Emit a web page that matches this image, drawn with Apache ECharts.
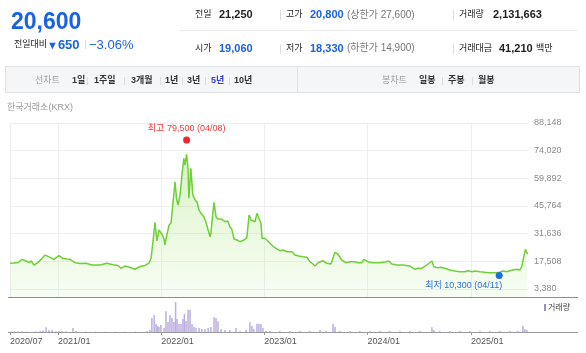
<!DOCTYPE html>
<html>
<head>
<meta charset="utf-8">
<script src="https://cdn.jsdelivr.net/npm/echarts@6/dist/echarts.min.js"></script>
<style>
  html, body { margin: 0; padding: 0; background: #fff; width: 586px; height: 353px; overflow: hidden; }
  #chart { position: absolute; left: 0; top: 0; width: 586px; height: 353px; }
  .t { position: absolute; white-space: nowrap; line-height: 1; font-family: "Liberation Sans", "Noto Sans CJK KR", sans-serif; }
  .b { font-weight: bold; }
  .blue { color: #1a63e0; }
  .sep { position: absolute; width: 1px; background: #dcdcdc; }
  .bar { position: absolute; left: 5px; top: 66px; width: 573px; height: 25px; background: #f5f6f8; border: 1px solid #dfe1e5; }
</style>
</head>
<body>
<div id="chart"></div>

<!-- header -->
<span class="t b blue" style="left:11px;top:9.5px;font-size:23px;">20,600</span>
<span class="t" style="left:14px;top:40px;font-size:9px;color:#222;">전일대비</span>
<span class="t b blue" style="left:47px;top:38px;font-size:13px;"><span style="font-size:11px;">▼</span>650</span>
<div class="sep" style="left:85px;top:40px;height:9px;"></div>
<span class="t blue" style="left:89px;top:38px;font-size:13px;">−3.06%</span>

<span class="t" style="left:195px;top:10px;font-size:9px;color:#222;">전일</span>
<span class="t b" style="left:219px;top:9.2px;font-size:11px;color:#222;">21,250</span>
<div class="sep" style="left:280px;top:10px;height:10px;"></div>
<span class="t" style="left:286px;top:10px;font-size:9px;color:#222;">고가</span>
<span class="t b blue" style="left:310px;top:9.2px;font-size:11px;">20,800</span>
<span class="t" style="left:347px;top:9.7px;font-size:10px;color:#777;">(상한가 27,600)</span>
<div class="sep" style="left:453px;top:10px;height:10px;"></div>
<span class="t" style="left:459px;top:10px;font-size:9px;color:#222;">거래량</span>
<span class="t b" style="left:493px;top:9.2px;font-size:11px;color:#222;">2,131,663</span>

<div style="position:absolute;left:180px;top:30px;width:398px;height:1px;background:#ebebeb;"></div>

<span class="t" style="left:195px;top:43.8px;font-size:9px;color:#222;">시가</span>
<span class="t b blue" style="left:219px;top:42.8px;font-size:11px;">19,060</span>
<div class="sep" style="left:280px;top:43.5px;height:10px;"></div>
<span class="t" style="left:286px;top:43.8px;font-size:9px;color:#222;">저가</span>
<span class="t b blue" style="left:310px;top:42.8px;font-size:11px;">18,330</span>
<span class="t" style="left:347px;top:43.3px;font-size:10px;color:#777;">(하한가 14,900)</span>
<div class="sep" style="left:453px;top:43.5px;height:10px;"></div>
<span class="t" style="left:459px;top:43.8px;font-size:9px;color:#222;">거래대금</span>
<span class="t b" style="left:499px;top:42.8px;font-size:11px;color:#222;">41,210</span>
<span class="t" style="left:536px;top:43.8px;font-size:9px;color:#222;">백만</span>

<!-- toolbar -->
<div class="bar"></div>
<div class="sep" style="left:297px;top:66px;height:27px;background:#dfe1e5;"></div>
<span class="t" style="left:35px;top:76px;font-size:9px;color:#999;">선차트</span>
<span class="t b" style="left:72px;top:76px;font-size:9px;color:#333;">1일</span>
<div class="sep" style="left:87px;top:77px;height:8px;"></div>
<span class="t b" style="left:94px;top:76px;font-size:9px;color:#333;">1주일</span>
<div class="sep" style="left:124px;top:77px;height:8px;"></div>
<span class="t b" style="left:131px;top:76px;font-size:9px;color:#333;">3개월</span>
<div class="sep" style="left:160px;top:77px;height:8px;"></div>
<span class="t b" style="left:165px;top:76px;font-size:9px;color:#333;">1년</span>
<div class="sep" style="left:182px;top:77px;height:8px;"></div>
<span class="t b" style="left:187px;top:76px;font-size:9px;color:#333;">3년</span>
<div class="sep" style="left:205px;top:77px;height:8px;"></div>
<span class="t b" style="left:211px;top:76px;font-size:9px;color:#3a3fd0;">5년</span>
<div class="sep" style="left:229px;top:77px;height:8px;"></div>
<span class="t b" style="left:234px;top:76px;font-size:9px;color:#333;">10년</span>

<span class="t" style="left:382px;top:76px;font-size:9px;color:#999;">봉차트</span>
<span class="t b" style="left:419px;top:76px;font-size:9px;color:#333;">일봉</span>
<div class="sep" style="left:442px;top:77px;height:8px;"></div>
<span class="t b" style="left:448px;top:76px;font-size:9px;color:#333;">주봉</span>
<div class="sep" style="left:472px;top:77px;height:8px;"></div>
<span class="t b" style="left:478px;top:76px;font-size:9px;color:#333;">월봉</span>

<span class="t" style="left:7px;top:102.8px;font-size:9px;color:#999;">한국거래소(KRX)</span>

<script>
// weekly-ish closing prices
const priceDates = [
  '2020-07-15','2020-07-29','2020-08-13','2020-08-27','2020-09-10','2020-09-20','2020-09-28','2020-10-08','2020-10-26','2020-11-16',
  '2020-12-04','2020-12-18','2021-01-04','2021-01-19','2021-02-02','2021-02-12','2021-03-02','2021-03-20','2021-04-10','2021-05-01',
  '2021-05-30','2021-06-23','2021-07-15','2021-08-01','2021-08-12','2021-08-26','2021-09-13','2021-09-30','2021-10-18','2021-11-05',
  '2021-11-19','2021-11-26','2021-12-03','2021-12-10','2021-12-17','2021-12-24','2022-01-04','2022-01-11','2022-01-14','2022-01-21',
  '2022-01-29','2022-02-05','2022-02-12','2022-02-19','2022-02-25','2022-03-02','2022-03-09','2022-03-16','2022-03-22','2022-03-26',
  '2022-04-01','2022-04-06','2022-04-09','2022-04-16','2022-04-23','2022-05-01','2022-05-08','2022-05-15','2022-05-22','2022-05-25',
  '2022-06-01','2022-06-08','2022-06-16','2022-06-23','2022-06-26','2022-07-03','2022-07-07','2022-07-14','2022-07-21','2022-07-24',
  '2022-08-01','2022-08-08','2022-08-15','2022-08-25','2022-09-01','2022-09-08','2022-09-16','2022-09-26','2022-10-07','2022-10-21',
  '2022-10-31','2022-11-08','2022-11-15','2022-11-22','2022-11-29','2022-12-06','2022-12-13','2022-12-20','2022-12-24','2023-01-02',
  '2023-01-10','2023-01-21','2023-01-31','2023-02-11','2023-02-25','2023-03-04','2023-03-08','2023-03-15','2023-03-22','2023-03-29',
  '2023-04-09','2023-04-19','2023-05-03','2023-05-18','2023-06-01','2023-06-11','2023-06-22','2023-06-29','2023-07-10','2023-07-17',
  '2023-07-27','2023-08-10','2023-08-25','2023-09-01','2023-09-08','2023-09-18','2023-10-02','2023-10-17','2023-10-31','2023-11-17',
  '2023-11-28','2023-12-12','2023-12-19','2024-01-02','2024-01-20','2024-02-14','2024-03-03','2024-03-17','2024-03-27','2024-04-14',
  '2024-05-05','2024-05-30','2024-06-17','2024-06-27','2024-07-11','2024-07-29','2024-08-16','2024-08-23','2024-09-06','2024-09-17',
  '2024-10-01','2024-10-19','2024-11-05','2024-11-23','2024-12-11','2024-12-21','2025-01-06','2025-01-15','2025-02-02','2025-02-19',
  '2025-03-09','2025-03-27','2025-04-13','2025-04-24','2025-05-08','2025-05-19','2025-05-29','2025-06-12','2025-06-23','2025-06-30',
  '2025-07-07','2025-07-13','2025-07-18','2025-07-21'
];
const priceValues = [
  16500, 16650, 16900, 18500, 17700, 16900, 17700, 15600, 17400, 20700,
  19550, 18500, 20400, 18950, 18700, 18550, 16800, 16400, 16500, 15600,
  15600, 16500, 15800, 15400, 13950, 15100, 14350, 13450, 14870, 15400,
  16650, 18950, 27540, 37440, 27900, 33500, 31300, 28910, 25850, 30950,
  36060, 37240, 36930, 58170, 48830, 46270, 51740, 62460, 70120, 66700,
  72160, 65000, 49700, 65000, 51380, 48830, 47650, 43720, 42030, 42850,
  40300, 37740, 33510, 30090, 31820, 42550, 47650, 40300, 39130, 40000,
  39130, 39480, 37740, 38100, 35190, 33860, 28910, 28400, 27530, 28400,
  29580, 41170, 38610, 37740, 37740, 42030, 41680, 36930, 29270, 29270,
  28400, 26720, 25340, 24160, 22940, 22430, 23290, 22430, 22430, 22940,
  22430, 20740, 20230, 19870, 19570, 17320, 16150, 15120, 16810, 16000,
  17830, 16500, 16150, 19210, 22120, 21250, 18190, 16810, 17320, 17320,
  16810, 16810, 18550, 17320, 16810, 16810, 17170, 17680, 16150, 15640,
  15640, 15130, 13440, 13950, 13950, 15640, 17680, 14770, 14260, 14460,
  13950, 13080, 12570, 12210, 12210, 12720, 12210, 12570, 12210, 11900,
  11700, 11700, 11900, 12570, 12210, 12720, 13080, 13440, 13080, 14770,
  19870, 23650, 21910, 21250
];

// volume (shares)
const volumeDates = [
  '2020-07-17','2020-07-31','2020-08-14','2020-08-28','2020-09-11','2020-10-16','2020-10-30','2020-11-09','2020-11-20','2020-11-30',
  '2020-12-11','2020-12-24','2021-01-04','2021-01-15','2021-01-29','2021-02-23','2021-03-06','2021-04-09','2021-05-14','2021-06-18',
  '2021-07-23','2021-08-27','2021-10-01','2021-11-12','2021-11-22','2021-11-29','2021-12-07','2021-12-14','2021-12-19','2021-12-24',
  '2021-12-31','2022-01-11','2022-01-18','2022-01-25','2022-02-01','2022-02-08','2022-02-15','2022-02-21','2022-02-26','2022-03-05',
  '2022-03-12','2022-03-19','2022-03-24','2022-03-30','2022-04-06','2022-04-13','2022-04-20','2022-04-27','2022-05-04','2022-05-15',
  '2022-05-25','2022-06-05','2022-06-16','2022-06-26','2022-07-07','2022-07-14','2022-07-21','2022-08-01','2022-08-15','2022-09-01',
  '2022-09-23','2022-10-07','2022-10-28','2022-11-11','2022-11-18','2022-11-25','2022-12-06','2022-12-13','2022-12-20','2022-12-27',
  '2023-01-07','2023-01-21','2023-02-25','2023-04-02','2023-05-07','2023-06-11','2023-07-17','2023-08-07','2023-09-01','2023-09-08',
  '2023-09-25','2023-10-31','2023-12-05','2024-01-09','2024-02-14','2024-03-20','2024-04-25','2024-05-30','2024-07-04','2024-08-16',
  '2024-08-23','2024-09-13','2024-10-19','2024-11-23','2024-12-28','2025-02-02','2025-03-09','2025-04-13','2025-05-19','2025-06-16',
  '2025-07-04','2025-07-11','2025-07-18'
];
const volumeValues = [
  600000, 800000, 600000, 700000, 500000, 600000, 1000000, 1500000, 4700000, 2000000,
  2000000, 800000, 1000000, 1000000, 700000, 4000000, 1000000, 400000, 400000, 400000,
  400000, 400000, 400000, 1000000, 2000000, 14000000, 16700000, 8000000, 6000000, 5000000,
  7000000, 4000000, 20700000, 10000000, 16700000, 14000000, 10000000, 30000000, 13000000, 8000000,
  8000000, 13000000, 18000000, 11000000, 22300000, 22000000, 8000000, 5000000, 4000000, 4000000,
  3000000, 3000000, 4000000, 5000000, 14700000, 14000000, 10700000, 3000000, 2000000, 2000000,
  4000000, 1000000, 2000000, 9700000, 6000000, 3000000, 8300000, 8000000, 8000000, 4000000,
  1000000, 1000000, 1000000, 1000000, 1000000, 1000000, 2000000, 1000000, 8000000, 5000000,
  1000000, 1000000, 1000000, 1000000, 1000000, 1000000, 1000000, 1000000, 1000000, 4700000,
  2000000, 1000000, 1000000, 1000000, 1000000, 1000000, 1000000, 1000000, 1000000, 1000000,
  6300000, 3000000, 2000000
];

const yTicks = [3380, 17508, 31636, 45764, 59892, 74020, 88148];
const xTicks = ['2020-07-15', '2021-01-01', '2022-01-01', '2023-01-01', '2024-01-01', '2025-01-01'];
const xStart = '2020-07-15';
const xEnd = '2025-07-22';

const highMark = { date: '2022-04-01', value: 79500, text: '최고 79,500 (04/08)' };
const lowMark = { date: '2025-04-11', value: 10300, text: '최저 10,300 (04/11)' };

const FONT = '"Liberation Sans", "Noto Sans CJK KR", sans-serif';
const toTime = (d) => echarts.number.parseDate(d).getTime();
const xTickTimes = xTicks.map(toTime);
const fmtMonth = (v) => {
  const d = new Date(v);
  return d.getFullYear() + '/' + String(d.getMonth() + 1).padStart(2, '0');
};

const chart = echarts.init(document.getElementById('chart'), null, { renderer: 'canvas' });

const option = {
  animation: false,
  backgroundColor: 'transparent',
  textStyle: { fontFamily: FONT },
  grid: [
    { left: 10, right: 58, top: 123, bottom: 56 },
    { left: 10, right: 58, top: 300, bottom: 21 }
  ],
  xAxis: [
    {
      type: 'value', gridIndex: 0, min: toTime(xStart), max: toTime(xEnd),
      axisLine: { show: false },
      axisTick: { show: false, customValues: xTickTimes },
      axisLabel: { show: false, customValues: xTickTimes },
      splitLine: { show: true, lineStyle: { color: '#eeeeee', width: 1 } }
    },
    {
      type: 'value', gridIndex: 1, min: toTime(xStart), max: toTime(xEnd),
      axisLine: { show: false },
      axisTick: { show: true, customValues: xTickTimes, length: 3, lineStyle: { color: '#999' } },
      axisLabel: {
        show: true, customValues: xTickTimes, formatter: fmtMonth, align: 'left',
        margin: 5, fontSize: 9, color: '#555', fontFamily: FONT
      },
      splitLine: { show: false }
    }
  ],
  yAxis: [
    {
      type: 'value', gridIndex: 0, position: 'right', min: -705, max: 88148,
      axisLine: { show: false },
      axisTick: { show: false, customValues: yTicks },
      axisLabel: {
        customValues: yTicks, margin: 6, fontSize: 9, color: '#8a8a8a', fontFamily: FONT,
        formatter: (v) => v.toLocaleString('en-US')
      },
      splitLine: { show: true, lineStyle: { color: '#eeeeee', width: 1 } }
    },
    {
      type: 'value', gridIndex: 1, min: 0, max: 32000000, show: false
    }
  ],
  series: [
    {
      name: 'price',
      type: 'line',
      xAxisIndex: 0, yAxisIndex: 0,
      data: priceDates.map((d, i) => [toTime(d), priceValues[i]]),
      showSymbol: false,
      lineStyle: { color: '#6fcf36', width: 1.5 },
      areaStyle: {
        origin: 'start',
        color: new echarts.graphic.LinearGradient(0, 0, 0, 1, [
          { offset: 0, color: 'rgba(150,222,100,0.55)' },
          { offset: 1, color: 'rgba(200,240,170,0.22)' }
        ])
      },
      markPoint: {
        symbol: 'circle',
        symbolSize: 7,
        data: [
          {
            coord: [toTime(highMark.date), highMark.value],
            itemStyle: { color: '#f2262c' },
            label: {
              show: true, formatter: highMark.text, position: 'top', distance: 3,
              color: '#f03a3a', fontSize: 9, fontFamily: FONT
            }
          },
          {
            coord: [toTime(lowMark.date), lowMark.value],
            itemStyle: { color: '#1d6ee6' },
            label: {
              show: true, formatter: lowMark.text, position: 'bottom', distance: 2,
              align: 'right', offset: [3, 0],
              color: '#2a6fdc', fontSize: 9, fontFamily: FONT
            }
          }
        ]
      }
    },
    {
      name: 'volume',
      type: 'bar',
      xAxisIndex: 1, yAxisIndex: 1,
      data: volumeDates.map((d, i) => [toTime(d), volumeValues[i]]),
      barWidth: 1.5,
      itemStyle: { color: '#bbaee0' }
    }
  ],
  graphic: [
    { type: 'line', shape: { x1: 8, y1: 297.5, x2: 578, y2: 297.5 }, style: { stroke: '#8c8c8c', lineWidth: 1 } },
    { type: 'line', shape: { x1: 8, y1: 332.5, x2: 578, y2: 332.5 }, style: { stroke: '#9a9a9a', lineWidth: 1 } },
    { type: 'rect', shape: { x: 544, y: 304, width: 2, height: 7 }, style: { fill: '#9b8ad0' } },
    {
      type: 'text', x: 548, y: 307.5,
      style: { text: '거래량', fill: '#444', fontSize: 8, fontFamily: FONT, textVerticalAlign: 'middle' }
    }
  ]
};

chart.setOption(option);
window.addEventListener('resize', () => chart.resize());
</script>
</body>
</html>
